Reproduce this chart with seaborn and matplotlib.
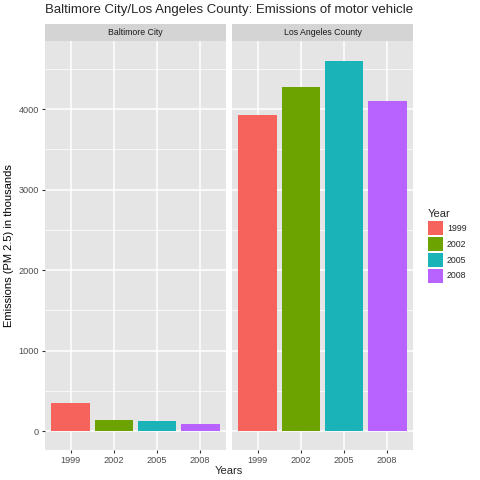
import numpy as np
import pandas as pd
import matplotlib
matplotlib.use('Agg')
import matplotlib.pyplot as plt
from matplotlib.patches import Patch
from matplotlib.ticker import MultipleLocator
import seaborn as sns

# data
years = ['1999', '2002', '2005', '2008']
baltimore = [347, 134, 130, 88]
los_angeles = [3931, 4274, 4601, 4101]
counties = ['Baltimore City', 'Los Angeles County']
colores = ['#F5635C', '#6CA300', '#1AB4B8', '#B862FF']

df = pd.DataFrame({
    'Year': years * 2,
    'Emissions': baltimore + los_angeles,
    'County': [counties[0]] * 4 + [counties[1]] * 4,
})

sns.set_theme(style='white')
plt.rcParams['font.family'] = ['Liberation Sans', 'DejaVu Sans']

fig = plt.figure(figsize=(4.8, 4.8), dpi=100)
ax1 = fig.add_axes([45 / 480, 1 - 450 / 480, 181 / 480, 409 / 480])
ax2 = fig.add_axes([232 / 480, 1 - 450 / 480, 181 / 480, 409 / 480], sharey=ax1)

ymin, ymax = -236, 4845
for ax, county in zip([ax1, ax2], counties):
    sub = df[df['County'] == county]
    ax.set_facecolor('#E5E5E5')
    sns.barplot(data=sub, x='Year', y='Emissions', hue='Year', order=years,
                hue_order=years, palette=colores, width=0.9, saturation=1,
                linewidth=0, legend=False, ax=ax)
    # grid after barplot, seaborn turns off the categorical grid
    ax.yaxis.set_major_locator(MultipleLocator(1000))
    ax.yaxis.set_minor_locator(MultipleLocator(500))
    ax.grid(which='major', axis='both', color='white', linewidth=1.1)
    ax.grid(which='minor', axis='y', color='white', linewidth=0.5)
    ax.set_axisbelow(True)
    ax.set_xlim(-0.6, 3.6)
    ax.set_ylim(ymin, ymax)
    for s in ax.spines.values():
        s.set_visible(False)
    ax.tick_params(axis='both', which='major', bottom=True, left=True,
                   length=2.5, width=0.8, color='#333333', labelcolor='#4D4D4D',
                   labelsize=6.6, pad=2)
    ax.tick_params(axis='y', which='minor', length=0)
    ax.set_xlabel('')
    ax.set_ylabel('')
    # facet strip
    strip = fig.add_axes([ax.get_position().x0, 1 - 41 / 480,
                          ax.get_position().width, 17 / 480])
    strip.set_facecolor('#D4D4D4')
    strip.set_xticks([])
    strip.set_yticks([])
    for s in strip.spines.values():
        s.set_visible(False)
    strip.text(0.5, 0.5, county, ha='center', va='center', fontsize=6.3,
               color='#1A1A1A', transform=strip.transAxes)

ax2.tick_params(axis='y', which='both', left=False, labelleft=False)

ax1.set_ylabel('Emissions (PM 2.5) in thousands', fontsize=8, color='black', labelpad=3)
fig.text(229 / 480, 1 - 471 / 480, 'Years', ha='center', va='center', fontsize=8)
fig.text(45 / 480, 1 - 10 / 480, 'Baltimore City/Los Angeles County: Emissions of motor vehicle',
         ha='left', va='center', fontsize=9.5)

handles = [Patch(facecolor=c, edgecolor='none') for c in colores]
leg = fig.legend(handles, years, title='Year', loc='center left',
                 bbox_to_anchor=(428 / 480, 1 - 246 / 480), frameon=False,
                 fontsize=6.3, title_fontsize=8, handlelength=1.75,
                 handleheight=2.1, labelspacing=0.2, handletextpad=0.4,
                 borderaxespad=0, borderpad=0)
leg._legend_box.align = 'left'

fig.savefig('out.png', dpi=100)
